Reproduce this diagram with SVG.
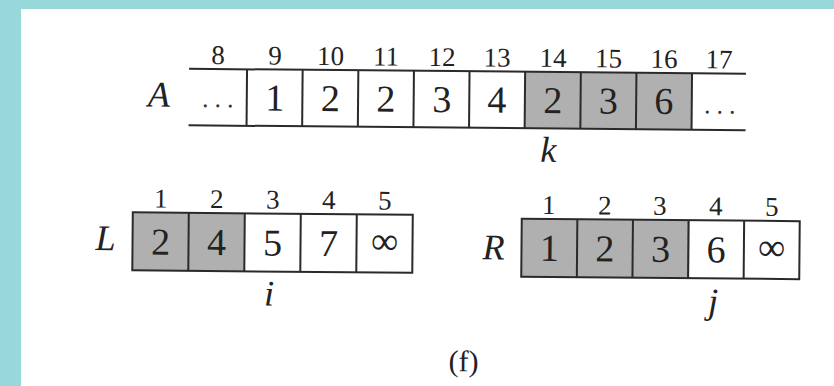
<svg xmlns="http://www.w3.org/2000/svg" width="834" height="386" viewBox="0 0 834 386">
<defs>
<style>
.ln{stroke:#2a2a2a;stroke-width:2;fill:none}
.sh{fill:#b0b0b0}
.idx{font-family:"Liberation Serif",serif;font-size:27px;fill:#222;text-anchor:middle}
.val{font-family:"Liberation Serif",serif;font-size:38px;fill:#222;text-anchor:middle}
.it{font-family:"Liberation Serif",serif;font-style:italic;font-size:36px;fill:#222;text-anchor:middle}
.dots{font-family:"Liberation Serif",serif;font-size:26px;fill:#333;text-anchor:middle;letter-spacing:6px}
.cap{font-family:"Liberation Serif",serif;font-size:30px;fill:#222;text-anchor:middle}
</style>
</defs>
<rect x="0" y="0" width="834" height="386" fill="#98d7da"/>
<rect x="21" y="9" width="813" height="377" fill="#ffffff"/>
<g transform="rotate(0.5 440 190)">
<g id="arrayA">
<rect class="sh" x="524" y="71" width="167" height="56.5"/>
<line class="ln" x1="188" y1="71" x2="745" y2="71"/>
<line class="ln" x1="188" y1="127.5" x2="745" y2="127.5"/>
<line class="ln" x1="246" y1="71" x2="246" y2="127.5"/>
<line class="ln" x1="301.6" y1="71" x2="301.6" y2="127.5"/>
<line class="ln" x1="357.3" y1="71" x2="357.3" y2="127.5"/>
<line class="ln" x1="412.9" y1="71" x2="412.9" y2="127.5"/>
<line class="ln" x1="468.5" y1="71" x2="468.5" y2="127.5"/>
<line class="ln" x1="524.1" y1="71" x2="524.1" y2="127.5"/>
<line class="ln" x1="579.8" y1="71" x2="579.8" y2="127.5"/>
<line class="ln" x1="635.4" y1="71" x2="635.4" y2="127.5"/>
<line class="ln" x1="691" y1="71" x2="691" y2="127.5"/>
<text class="it" x="158" y="109">A</text>
<text class="idx" x="217" y="66">8</text>
<text class="idx" x="274" y="66">9</text>
<text class="idx" x="329.5" y="66">10</text>
<text class="idx" x="385" y="66">11</text>
<text class="idx" x="441" y="66">12</text>
<text class="idx" x="496" y="66">13</text>
<text class="idx" x="552" y="66">14</text>
<text class="idx" x="607.5" y="66">15</text>
<text class="idx" x="663" y="66">16</text>
<text class="idx" x="718" y="66">17</text>
<text class="dots" x="220" y="109">...</text>
<text class="val" x="274" y="112">1</text>
<text class="val" x="329.5" y="112">2</text>
<text class="val" x="385" y="112">2</text>
<text class="val" x="441" y="112">3</text>
<text class="val" x="496" y="112">4</text>
<text class="val" x="552" y="112">2</text>
<text class="val" x="607.5" y="112">3</text>
<text class="val" x="663" y="112">6</text>
<text class="dots" x="722" y="111">...</text>
<text class="it" x="548" y="161">k</text>
</g>
<g id="arrayL">
<rect class="sh" x="133" y="215" width="112" height="58"/>
<rect class="ln" x="133" y="215" width="280" height="58"/>
<line class="ln" x1="189" y1="215" x2="189" y2="273"/>
<line class="ln" x1="245" y1="215" x2="245" y2="273"/>
<line class="ln" x1="301" y1="215" x2="301" y2="273"/>
<line class="ln" x1="357" y1="215" x2="357" y2="273"/>
<text class="it" x="106" y="253">L</text>
<text class="idx" x="161" y="210">1</text>
<text class="idx" x="217" y="210">2</text>
<text class="idx" x="273" y="210">3</text>
<text class="idx" x="329" y="210">4</text>
<text class="idx" x="385" y="210">5</text>
<text class="val" x="161" y="257">2</text>
<text class="val" x="217" y="257">4</text>
<text class="val" x="273" y="257">5</text>
<text class="val" x="329" y="257">7</text>
<text class="val" x="385" y="254" font-size="28">∞</text>
<text class="it" x="270" y="307">i</text>
</g>
<g id="arrayR">
<rect class="sh" x="522" y="218" width="168" height="58"/>
<rect class="ln" x="522" y="218" width="278" height="58"/>
<line class="ln" x1="577.6" y1="218" x2="577.6" y2="276"/>
<line class="ln" x1="633.2" y1="218" x2="633.2" y2="276"/>
<line class="ln" x1="688.8" y1="218" x2="688.8" y2="276"/>
<line class="ln" x1="744.4" y1="218" x2="744.4" y2="276"/>
<text class="it" x="494" y="259">R</text>
<text class="idx" x="549" y="213">1</text>
<text class="idx" x="605" y="213">2</text>
<text class="idx" x="660" y="213">3</text>
<text class="idx" x="716" y="213">4</text>
<text class="idx" x="772" y="213">5</text>
<text class="val" x="549.8" y="260">1</text>
<text class="val" x="605.4" y="260">2</text>
<text class="val" x="661" y="260">3</text>
<text class="val" x="716.6" y="260">6</text>
<text class="val" x="772.2" y="257" font-size="28">∞</text>
<text class="it" x="714" y="311">j</text>
</g>
<text class="cap" x="465" y="371">(f)</text>
</g>
</svg>
